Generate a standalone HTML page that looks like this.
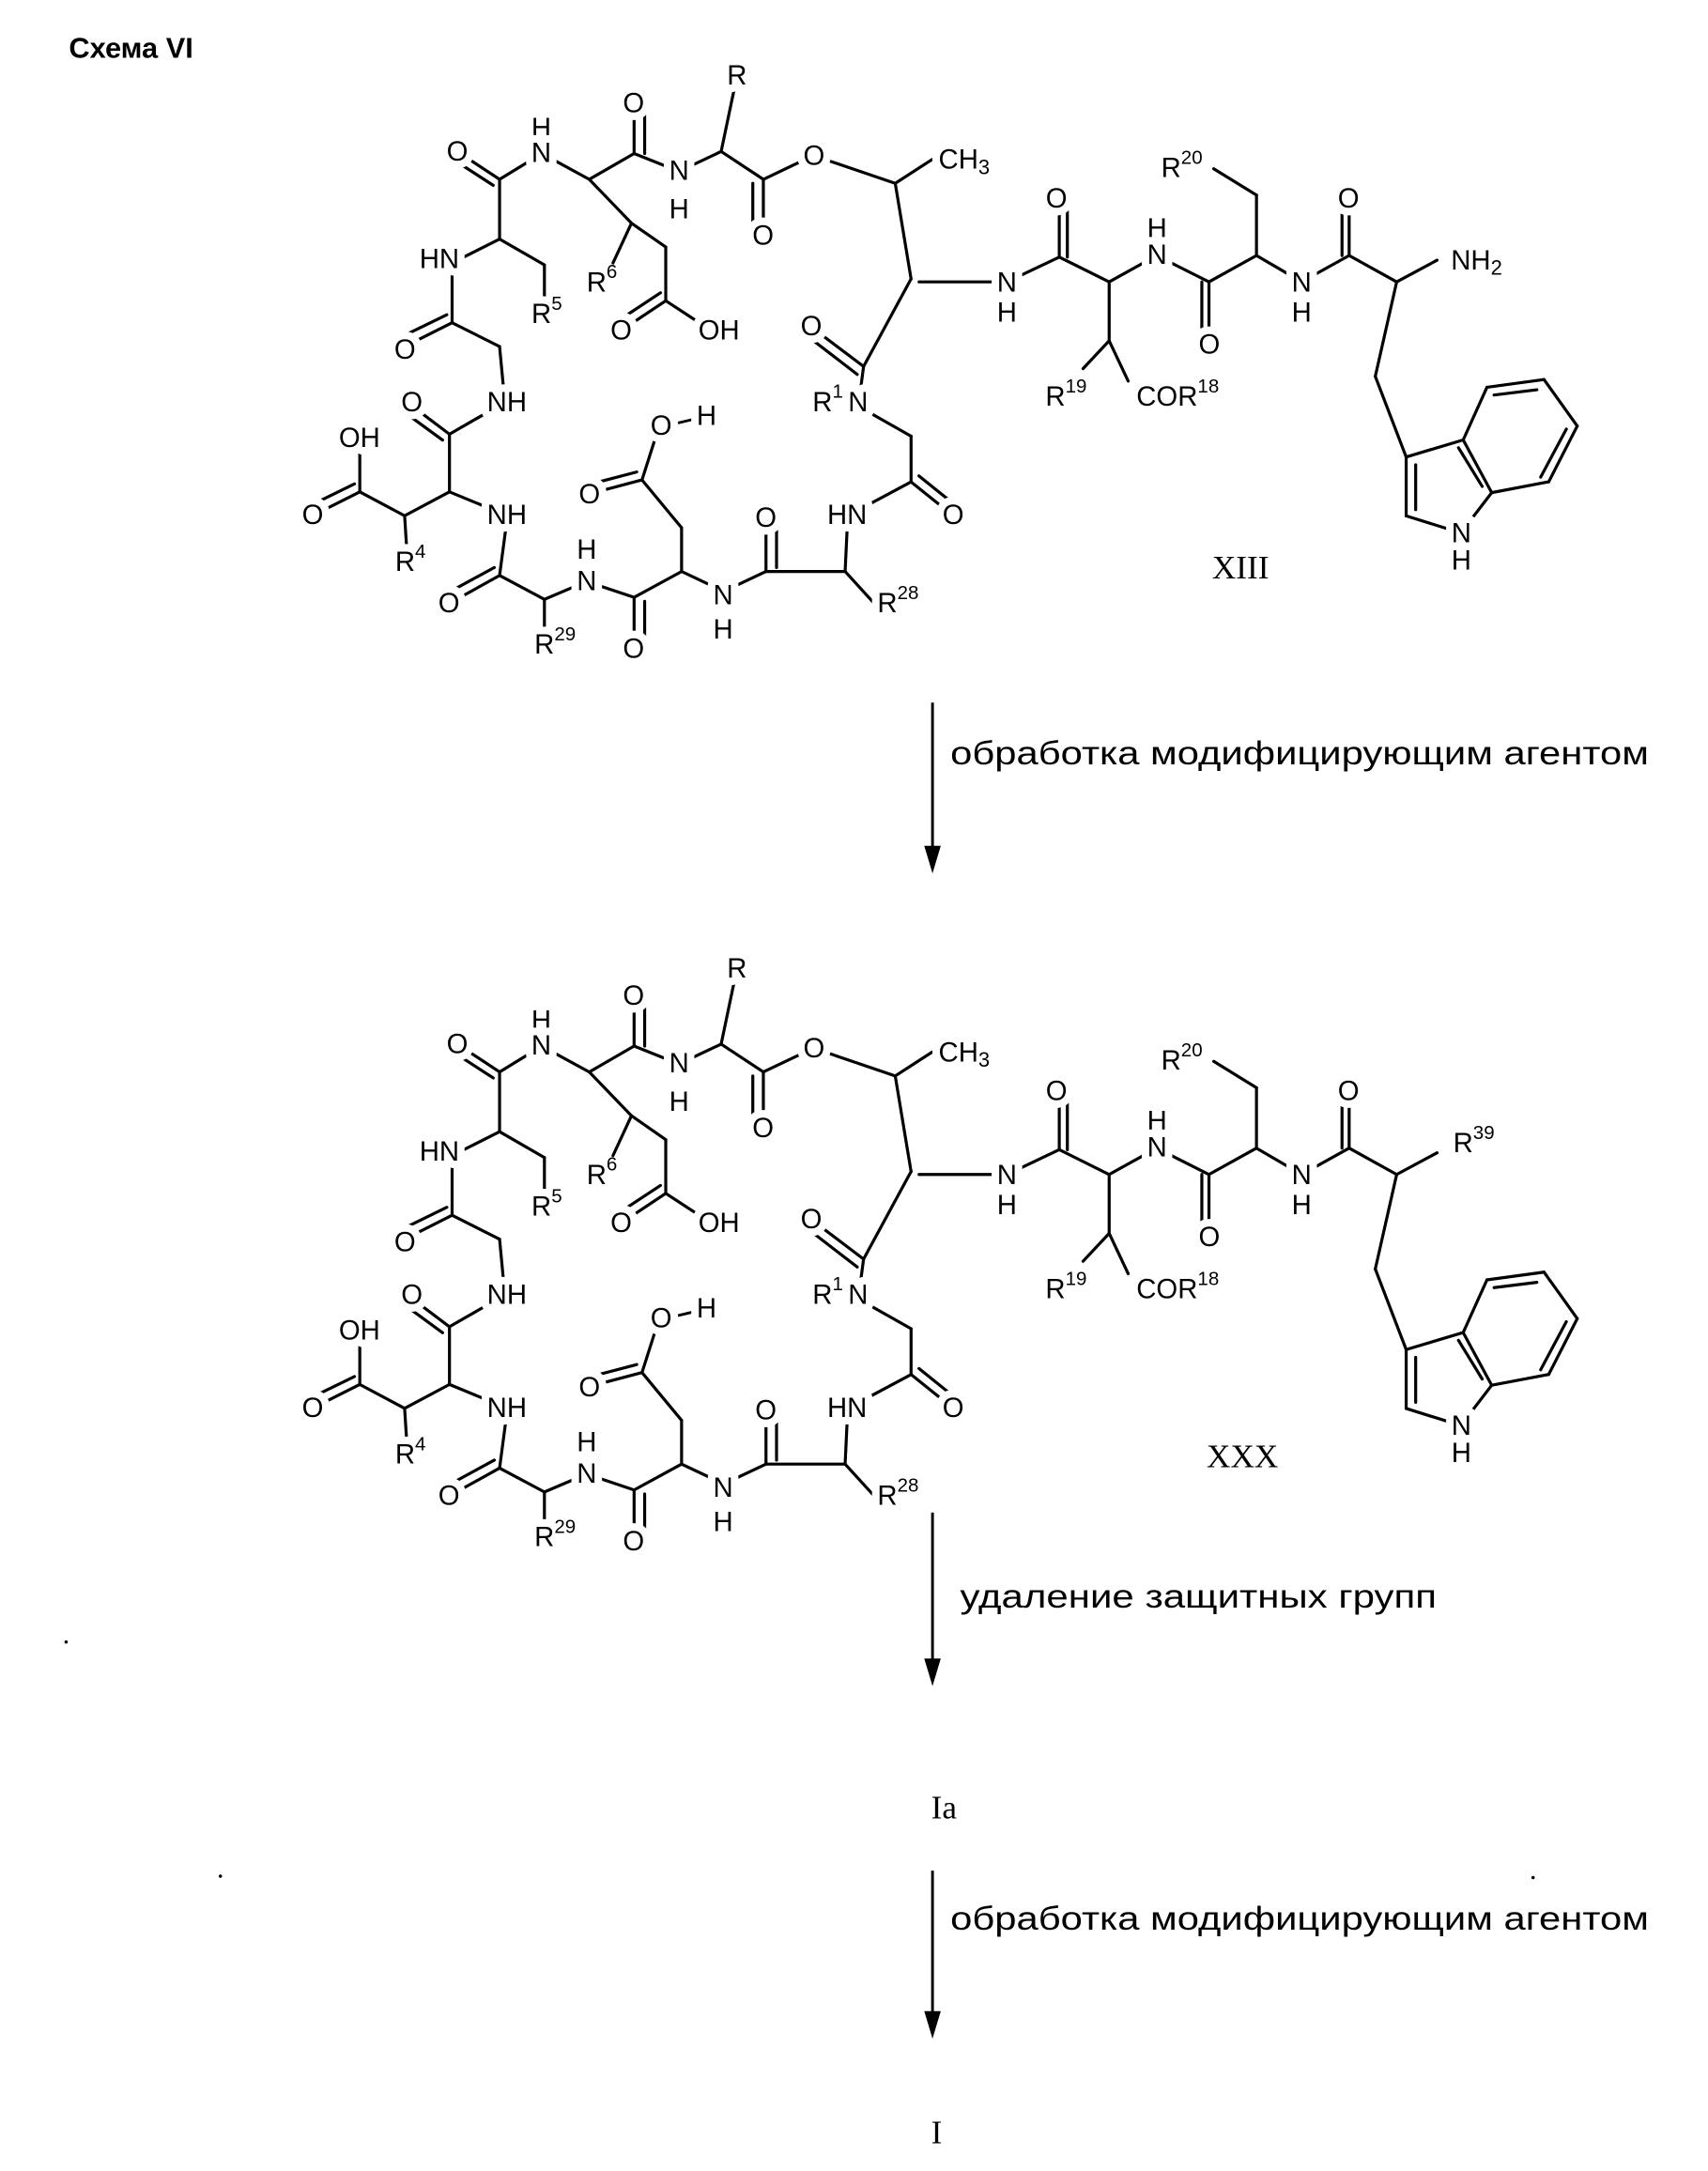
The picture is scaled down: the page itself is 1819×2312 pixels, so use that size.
<!DOCTYPE html>
<html><head><meta charset="utf-8"><style>
html,body{margin:0;padding:0;background:#fff}
svg{display:block}
text{font-family:"Liberation Sans",sans-serif;font-size:20px;fill:#000}
.l text{stroke:#fff;stroke-width:11px;stroke-linejoin:round;paint-order:stroke;dominant-baseline:central;text-anchor:middle}
.l tspan{stroke:none}
.b line{stroke:#000;stroke-width:3.2;vector-effect:non-scaling-stroke;stroke-linecap:round}
</style></head><body>
<svg width="1819" height="2312" viewBox="0 0 1240 1576" xmlns="http://www.w3.org/2000/svg">
<text x="50" y="42" style="font-weight:bold;font-size:21px">Схема VI</text>
<defs>
<g id="s">
<g class="b" transform="matrix(.383 0 0 .289 198 37.7)">
<line x1="510" y1="255" x2="430" y2="320"/><line x1="430" y1="320" x2="350" y2="250"/><line x1="418" y1="335" x2="340" y2="268"/>
<line x1="430" y1="320" x2="430" y2="470"/><line x1="510" y1="255" x2="600" y2="320"/><line x1="600" y1="320" x2="685" y2="255"/>
<line x1="685" y1="255" x2="685" y2="130"/><line x1="705" y1="255" x2="705" y2="150"/>
<line x1="685" y1="255" x2="770" y2="300"/><line x1="770" y1="300" x2="850" y2="250"/><line x1="850" y1="250" x2="880" y2="60"/>
<line x1="850" y1="250" x2="930" y2="320"/><line x1="930" y1="320" x2="930" y2="460"/><line x1="910" y1="330" x2="910" y2="440"/>
<line x1="930" y1="320" x2="1025" y2="260"/><line x1="1025" y1="260" x2="1180" y2="330"/>
<line x1="600" y1="320" x2="680" y2="430"/><line x1="680" y1="430" x2="645" y2="530"/><line x1="680" y1="430" x2="745" y2="490"/>
<line x1="745" y1="490" x2="745" y2="625"/><line x1="745" y1="625" x2="660" y2="700"/><line x1="735" y1="605" x2="655" y2="675"/><line x1="745" y1="625" x2="820" y2="690"/>
<line x1="430" y1="470" x2="340" y2="530"/><line x1="430" y1="470" x2="515" y2="535"/><line x1="515" y1="535" x2="515" y2="620"/>
<line x1="340" y1="530" x2="340" y2="680"/><line x1="340" y1="680" x2="250" y2="740"/><line x1="330" y1="660" x2="245" y2="715"/>
<line x1="340" y1="680" x2="430" y2="740"/><line x1="430" y1="740" x2="440" y2="880"/><line x1="440" y1="880" x2="335" y2="960"/>
<line x1="335" y1="960" x2="265" y2="890"/><line x1="322" y1="975" x2="255" y2="910"/>
<line x1="335" y1="960" x2="335" y2="1105"/><line x1="335" y1="1105" x2="250" y2="1165"/><line x1="250" y1="1165" x2="255" y2="1270"/>
<line x1="250" y1="1165" x2="165" y2="1105"/><line x1="165" y1="1105" x2="75" y2="1165"/><line x1="155" y1="1085" x2="70" y2="1140"/>
<line x1="165" y1="1105" x2="165" y2="990"/><line x1="335" y1="1105" x2="445" y2="1165"/><line x1="445" y1="1165" x2="430" y2="1315"/>
<line x1="430" y1="1315" x2="335" y2="1385"/><line x1="420" y1="1295" x2="330" y2="1360"/>
<line x1="430" y1="1315" x2="515" y2="1375"/><line x1="515" y1="1375" x2="515" y2="1480"/><line x1="515" y1="1375" x2="595" y2="1330"/>
<line x1="595" y1="1330" x2="685" y2="1370"/><line x1="685" y1="1370" x2="685" y2="1500"/><line x1="705" y1="1380" x2="705" y2="1480"/>
<line x1="685" y1="1370" x2="775" y2="1305"/><line x1="775" y1="1305" x2="775" y2="1195"/><line x1="775" y1="1195" x2="700" y2="1075"/>
<line x1="700" y1="1075" x2="600" y2="1110"/><line x1="690" y1="1055" x2="595" y2="1088"/><line x1="700" y1="1075" x2="730" y2="950"/>
<line x1="775" y1="1305" x2="855" y2="1355"/><line x1="855" y1="1355" x2="935" y2="1305"/><line x1="935" y1="1305" x2="935" y2="1170"/><line x1="955" y1="1295" x2="955" y2="1190"/>
<line x1="935" y1="1305" x2="1085" y2="1305"/><line x1="1085" y1="1305" x2="1140" y2="1385"/><line x1="1085" y1="1305" x2="1090" y2="1165"/>
<line x1="1090" y1="1165" x2="1210" y2="1080"/><line x1="1210" y1="1080" x2="1290" y2="1165"/><line x1="1225" y1="1065" x2="1300" y2="1145"/>
<line x1="1210" y1="1080" x2="1210" y2="965"/><line x1="1210" y1="965" x2="1110" y2="890"/><line x1="1110" y1="890" x2="1120" y2="790"/>
<line x1="1120" y1="790" x2="1020" y2="690"/><line x1="1108" y1="810" x2="1012" y2="712"/><line x1="1120" y1="790" x2="1210" y2="570"/>
<line x1="1210" y1="570" x2="1180" y2="330"/><line x1="1180" y1="330" x2="1250" y2="270"/>
</g>
<g class="b" transform="matrix(.345 0 0 .225 615.5 96.6)">
<line x1="150" y1="480" x2="335" y2="480"/><line x1="335" y1="480" x2="445" y2="400"/><line x1="445" y1="400" x2="445" y2="210"/><line x1="462" y1="400" x2="462" y2="230"/>
<line x1="445" y1="400" x2="550" y2="480"/><line x1="550" y1="480" x2="550" y2="670"/><line x1="550" y1="670" x2="495" y2="760"/><line x1="550" y1="670" x2="590" y2="800"/>
<line x1="550" y1="480" x2="650" y2="395"/><line x1="650" y1="395" x2="760" y2="480"/><line x1="760" y1="480" x2="760" y2="660"/><line x1="745" y1="480" x2="745" y2="640"/>
<line x1="760" y1="480" x2="860" y2="395"/><line x1="860" y1="395" x2="860" y2="200"/><line x1="860" y1="200" x2="770" y2="115"/>
<line x1="860" y1="395" x2="955" y2="480"/><line x1="955" y1="480" x2="1055" y2="395"/><line x1="1055" y1="395" x2="1055" y2="210"/><line x1="1040" y1="395" x2="1040" y2="230"/>
<line x1="1055" y1="395" x2="1155" y2="480"/><line x1="1155" y1="480" x2="1240" y2="410"/><line x1="1155" y1="480" x2="1110" y2="785"/><line x1="1110" y1="785" x2="1175" y2="1045"/>
<line x1="1175" y1="1045" x2="1295" y2="990"/><line x1="1295" y1="990" x2="1345" y2="820"/><line x1="1345" y1="820" x2="1465" y2="795"/><line x1="1360" y1="845" x2="1450" y2="828"/>
<line x1="1465" y1="795" x2="1535" y2="945"/><line x1="1535" y1="945" x2="1475" y2="1125"/><line x1="1512" y1="955" x2="1458" y2="1110"/>
<line x1="1475" y1="1125" x2="1355" y2="1160"/><line x1="1355" y1="1160" x2="1295" y2="990"/><line x1="1335" y1="1140" x2="1285" y2="1015"/>
<line x1="1355" y1="1160" x2="1290" y2="1290"/><line x1="1290" y1="1290" x2="1175" y2="1235"/><line x1="1175" y1="1235" x2="1175" y2="1045"/><line x1="1195" y1="1215" x2="1195" y2="1070"/>
</g>
<line x1="488" y1="308" x2="505" y2="304" stroke="#000" stroke-width="2"/>
<g class="l">
<text x="535" y="55">R</text><text x="460" y="75">O</text><text x="393" y="93">H</text><text x="393" y="111">N</text>
<text x="332" y="110">O</text><text x="493" y="124">N</text><text x="493" y="152">H</text><text x="554" y="171">O</text>
<text x="591" y="113">O</text><text x="700" y="116">CH<tspan dy="5" font-size="15">3</tspan></text>
<text x="319" y="188">HN</text><text x="397" y="228">R<tspan dy="-8" font-size="14">5</tspan></text>
<text x="437" y="205">R<tspan dy="-8" font-size="14">6</tspan></text><text x="451" y="240">O</text><text x="522" y="240">OH</text>
<text x="589" y="237">O</text><text x="294" y="254">O</text><text x="368" y="292">NH</text>
<text x="623" y="292">N</text><text x="601" y="292">R<tspan dy="-8" font-size="14">1</tspan></text>
<text x="480" y="309">O</text><text x="513" y="302">H</text><text x="261" y="318">OH</text><text x="299" y="292">O</text>
<text x="227" y="374">O</text><text x="368" y="374">NH</text><text x="428" y="359">O</text><text x="556" y="376">O</text>
<text x="615" y="374">HN</text><text x="692" y="374">O</text><text x="298" y="408">R<tspan dy="-8" font-size="14">4</tspan></text>
<text x="426" y="399">H</text><text x="426" y="422">N</text><text x="326" y="438">O</text>
<text x="525" y="432">N</text><text x="525" y="457">H</text><text x="652" y="438">R<tspan dy="-8" font-size="14">28</tspan></text>
<text x="403" y="468">R<tspan dy="-8" font-size="14">29</tspan></text><text x="460" y="471">O</text>
<text x="767" y="144">O</text><text x="731" y="205">N</text><text x="731" y="227">H</text>
<text x="840" y="166">H</text><text x="840" y="185">N</text><text x="878" y="250">O</text>
<text x="858" y="122">R<tspan dy="-8" font-size="14">20</tspan></text><text x="979" y="144">O</text>
<text x="945" y="205">N</text><text x="945" y="227">H</text>
<text x="774" y="288">R<tspan dy="-8" font-size="14">19</tspan></text><text x="855" y="288">COR<tspan dy="-8" font-size="14">18</tspan></text>
<text x="1061" y="387">N</text><text x="1061" y="407">H</text>
</g>
</g>
</defs>
<use href="#s"/>
<use href="#s" transform="translate(0,648)"/>
<g class="l">
<text x="1072" y="189">NH<tspan dy="5" font-size="15">2</tspan></text>
<text x="1070" y="830">R<tspan dy="-8" font-size="14">39</tspan></text>
</g>
<text x="880" y="420" style="font-family:'Liberation Serif',serif;font-size:24px">XIII</text>
<text x="876" y="1065" style="font-family:'Liberation Serif',serif;font-size:24px">XXX</text>
<g stroke="#000" stroke-width="2">
<line x1="677" y1="510" x2="677" y2="620"/><line x1="677" y1="1098" x2="677" y2="1210"/><line x1="677" y1="1358" x2="677" y2="1466"/>
</g>
<g fill="#000"><path d="M671,614 L683,614 L677,634 Z"/><path d="M671,1204 L683,1204 L677,1224 Z"/><path d="M671,1460 L683,1460 L677,1480 Z"/></g>
<text x="690" y="555" style="font-size:24px" textLength="507" lengthAdjust="spacingAndGlyphs">обработка модифицирующим агентом</text>
<text x="697" y="1167" style="font-size:24px" textLength="346" lengthAdjust="spacingAndGlyphs">удаление защитных групп</text>
<text x="676" y="1320" style="font-family:'Liberation Serif',serif;font-size:24px">Ia</text>
<text x="690" y="1401" style="font-size:24px" textLength="507" lengthAdjust="spacingAndGlyphs">обработка модифицирующим агентом</text>
<text x="676" y="1556" style="font-family:'Liberation Serif',serif;font-size:24px">I</text>
<circle cx="48" cy="1192" r="1.2"/><circle cx="160" cy="1362" r="1.2"/><circle cx="1113" cy="1363" r="1.2"/>
</svg>
</body></html>
